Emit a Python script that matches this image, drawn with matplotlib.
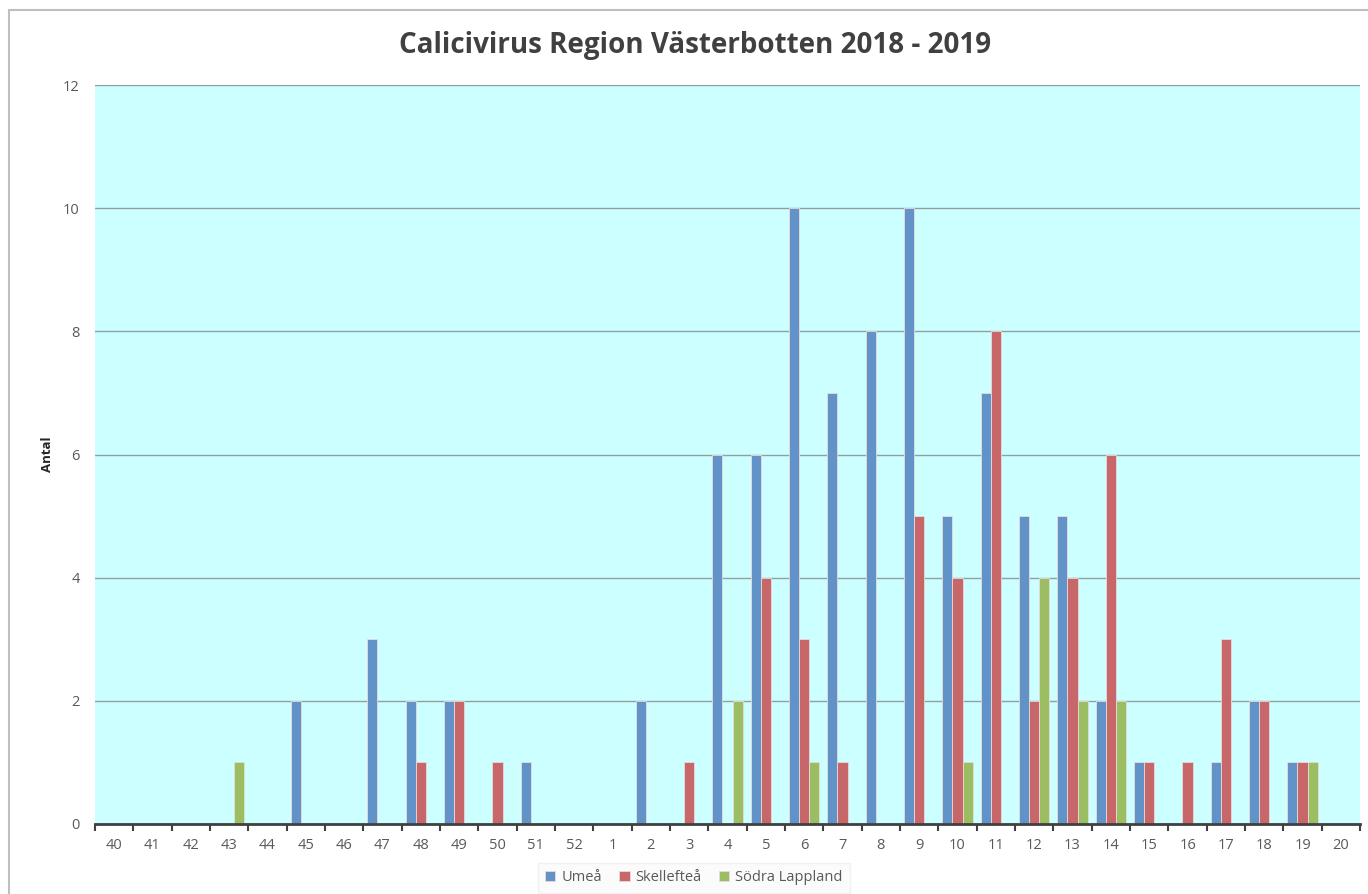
import matplotlib
matplotlib.use("Agg")
import matplotlib.pyplot as plt
import numpy as np
from matplotlib.patches import Rectangle

weeks = ["40","41","42","43","44","45","46","47","48","49","50","51","52",
         "1","2","3","4","5","6","7","8","9","10","11","12","13","14","15","16","17","18","19","20"]
umea        = [0,0,0,0,0,2,0,3,2,2,0,1,0, 0,2,0,6,6,10,7,8,10,5,7,5,5,2,1,0,1,2,1,0]
skelleftea  = [0,0,0,0,0,0,0,0,1,2,1,0,0, 0,0,1,0,4,3,1,0,5,4,8,2,4,6,1,1,3,2,1,0]
sodra_lapp  = [0,0,0,1,0,0,0,0,0,0,0,0,0, 0,0,0,2,0,1,0,0,0,1,0,4,2,2,0,0,0,0,1,0]
series_names = ["Umeå", "Skellefteå", "Södra Lappland"]
colors = ["#6193C9", "#C8676A", "#9BBE63"]

plt.rcParams['font.family'] = ['Open Sans', 'DejaVu Sans']
fig = plt.figure(figsize=(13.68, 8.94), dpi=100)
ax = fig.add_axes([0.0694, 0.0783, 0.9248, 0.8266])
ax.set_facecolor("#CCFFFF")

x = np.arange(len(weeks))
w = 0.265
for i, (vals, name, c) in enumerate(zip([umea, skelleftea, sodra_lapp], series_names, colors)):
    ax.bar(x + (i - 1) * w, vals, width=w, color=c, edgecolor="#EBD9D9", linewidth=0.6, label=name, zorder=3)

ax.set_xlim(-0.5, len(weeks) - 0.5)
ax.set_ylim(0, 12)
ax.set_yticks(range(0, 13, 2))
ax.set_xticks(x)
ax.set_xticklabels(weeks)
ax.set_xticks(np.arange(-0.5, len(weeks), 1), minor=True)
ax.tick_params(axis='x', which='major', length=0, pad=10, labelsize=10.5, labelcolor="#595959")
ax.tick_params(axis='x', which='minor', length=5, width=1.5, color="#404040", direction='out')
ax.tick_params(axis='y', length=0, pad=11, labelsize=10.5, labelcolor="#595959")
ax.grid(axis='y', color="#8FA0A3", linewidth=1.0, zorder=0)
ax.set_axisbelow(True)
for s in ["top", "right", "left"]:
    ax.spines[s].set_visible(False)
ax.spines["bottom"].set_color("#404040")
ax.spines["bottom"].set_linewidth(2)
ax.spines["bottom"].set_zorder(4)
ax.set_ylabel("Antal", fontsize=9.5, fontweight='bold', color="#262626")
ax.yaxis.set_label_coords(-0.032, 0.5)

fig.text(0.508, 0.949, "Calicivirus Region Västerbotten 2018 - 2019", ha='center', va='center',
         fontsize=20, fontweight='bold', color="#404040")

leg = ax.legend(loc='center', bbox_to_anchor=(0.4735, -0.073), ncol=3, frameon=True,
                fontsize=10.5, handlelength=0.7, handleheight=0.7, handletextpad=0.4,
                columnspacing=1.2, fancybox=False, borderpad=0.5)
leg.get_frame().set_edgecolor("#EEEEEE")
leg.get_frame().set_facecolor("#FAFAFA")
for t in leg.get_texts():
    t.set_color("#595959")

fig.patches.append(Rectangle((0.0066, -0.01), 1.0, 0.9989, transform=fig.transFigure,
                             fill=False, edgecolor="#BFBFBF", linewidth=1.5))

fig.savefig("out.png", dpi=100)
